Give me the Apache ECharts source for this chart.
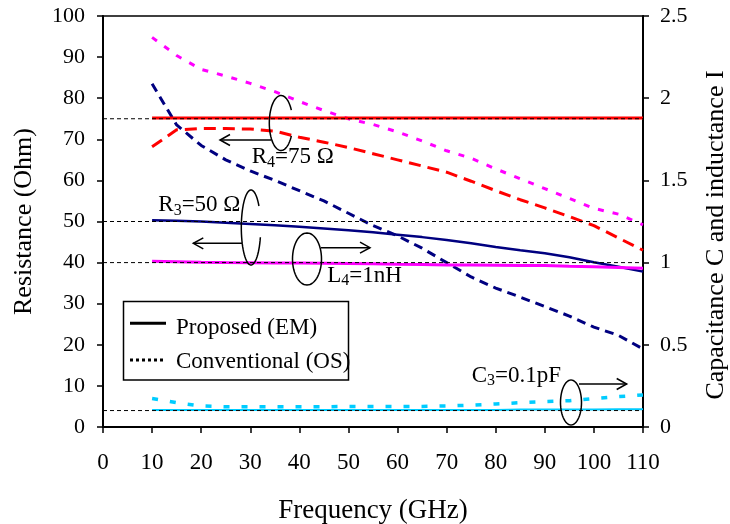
<!DOCTYPE html>
<html><head><meta charset="utf-8">
<script src="https://cdn.jsdelivr.net/npm/echarts@6/dist/echarts.min.js"></script>
<style>html,body{margin:0;padding:0;background:#fff}#c{width:730px;height:524px}</style>
</head><body><div id="c"></div>
<script>
// ---- data ----
const freq = [10,15,20,25,30,35,40,45,50,55,60,65,70,75,80,85,90,95,100,105,110];
// Resistance (Ohm), left axis
const r4EM = [75.2,75.2,75.2,75.2,75.2,75.2,75.2,75.2,75.2,75.2,75.2,75.2,75.2,75.2,75.2,75.2,75.2,75.2,75.2,75.2,75.2];
const r4OS = [68.2,72.3,72.6,72.6,72.5,72.0,70.5,69.3,68.0,66.5,65.0,63.5,62.0,59.8,57.5,55.3,53.3,51.2,49.0,46.0,43.0];
const r3EM = [50.3,50.2,50.0,49.7,49.4,49.1,48.7,48.3,47.9,47.4,46.8,46.2,45.5,44.7,43.8,43.0,42.3,41.3,40.1,39.0,37.8];
const r3OS = [83.5,73.5,68.5,65.0,62.3,60.0,57.5,55.0,52.0,49.0,46.5,43.5,40.0,36.5,33.8,31.6,29.3,27.0,24.3,22.3,19.0];
// Inductance (nH) / capacitance (pF), right axis
const l4EM = [1.008,1.005,1.002,1.000,0.999,0.998,0.997,0.996,0.995,0.993,0.990,0.988,0.985,0.985,0.984,0.983,0.982,0.978,0.975,0.970,0.965];
const l4OS = [2.37,2.26,2.175,2.135,2.09,2.04,1.98,1.925,1.875,1.84,1.795,1.74,1.68,1.635,1.57,1.51,1.45,1.39,1.33,1.295,1.23];
const c3EM = [0.104,0.104,0.104,0.104,0.104,0.104,0.104,0.104,0.104,0.104,0.104,0.104,0.104,0.104,0.104,0.106,0.107,0.107,0.107,0.108,0.108];
const c3OS = [0.173,0.148,0.128,0.123,0.123,0.123,0.123,0.123,0.125,0.125,0.125,0.125,0.128,0.133,0.140,0.148,0.155,0.160,0.173,0.185,0.195];
// target (reference) levels
const refLeft = [75, 50];      // R4, R3 (Ohm)
const refRight = [1, 0.1];     // L4 (nH), C3 (pF)
// axes
const xMin = 0, xMax = 110, xStep = 10;
const yLMin = 0, yLMax = 100, yLStep = 10;
const yRMin = 0, yRMax = 2.5, yRStep = 0.5;
// texts
const xName = 'Frequency (GHz)';
const yLName = 'Resistance (Ohm)';
const yRName = 'Capacitance C and inductance I';
const legendNames = ['Proposed (EM)', 'Conventional (OS)'];

const SERIF = 'Liberation Serif, Times New Roman, serif';
const pairs = (xs, ys) => xs.map((x, i) => [x, ys[i]]);

function lineSeries(name, vals, axis, color, width, dash, z) {
  return {
    name, type: 'line', yAxisIndex: axis, data: pairs(freq, vals),
    showSymbol: false, symbol: 'none', smooth: false, z: z || 2,
    lineStyle: { color, width, type: dash || 'solid', cap: 'butt' },
    silent: true
  };
}
function refSeries(v, axis) {
  return {
    type: 'line', yAxisIndex: axis, data: [[xMin, v], [xMax, v]],
    showSymbol: false, symbol: 'none', z: 5, silent: true,
    lineStyle: { color: '#000', width: 1, type: [4, 3] }
  };
}

const series = [
  lineSeries('R4 OS', r4OS, 0, '#FF0000', 3, [12, 7]),
  lineSeries('L4 OS', l4OS, 1, '#FF00FF', 3, [6, 9]),
  lineSeries('R3 OS', r3OS, 0, '#000080', 3, [9, 6]),
  lineSeries('C3 OS', c3OS, 1, '#00CCFF', 3.5, [6, 12]),
  lineSeries('R4 EM', r4EM, 0, '#FF0000', 3),
  lineSeries('R3 EM', r3EM, 0, '#000080', 2.5),
  lineSeries('L4 EM', l4EM, 1, '#FF00FF', 3),
  lineSeries('C3 EM', c3EM, 1, '#00CCFF', 2),
  ...refLeft.map(v => refSeries(v, 0)),
  ...refRight.map(v => refSeries(v, 1))
];

// ---- annotation graphics (loop + arrow + label) ----
function ellipsePts(cx, cy, rx, ry, a0, a1) {
  const pts = [];
  const n = 60;
  for (let i = 0; i <= n; i++) {
    const a = (a0 + (a1 - a0) * i / n) * Math.PI / 180;
    pts.push([cx + rx * Math.cos(a), cy + ry * Math.sin(a)]);
  }
  return pts;
}
function arrow(x0, y0, x1, y1) {
  const dx = x1 - x0, dy = y1 - y0, L = Math.hypot(dx, dy);
  const ux = dx / L, uy = dy / L;
  const hl = 10, hw = 5.5;
  return [
    { type: 'polyline', shape: { points: [[x0, y0], [x1, y1]] }, style: { stroke: '#000', lineWidth: 1.5, fill: null } },
    { type: 'polyline', shape: { points: [[x1 - ux * hl - uy * hw, y1 - uy * hl + ux * hw], [x1, y1], [x1 - ux * hl + uy * hw, y1 - uy * hl - ux * hw]] },
      style: { stroke: '#000', lineWidth: 1.5, fill: null } }
  ];
}
function label(main, sub, rest, x, capTop) {
  return {
    type: 'text', x: x, y: capTop - 4.2, z: 10,
    style: {
      text: '{a|' + main + '}{b|' + sub + '}{a|' + rest + '}',
      align: 'left', verticalAlign: 'top',
      rich: {
        a: { fontFamily: SERIF, fontSize: 23, lineHeight: 23, verticalAlign: 'top', fill: '#000' },
        b: { fontFamily: SERIF, fontSize: 16, lineHeight: 34, fill: '#000' }
      }
    }
  };
}
const annots = [
  { e: [281, 123, 11.7, 27.5, 28, 332], a: [271, 140, 220, 140], t: ['R', '4', '=75 Ω', 251.7, 150] },
  { e: [251, 227.5, 9.7, 37.5, 15, 325], a: [242, 243.3, 193.3, 243.3], t: ['R', '3', '=50 Ω', 158.3, 198] },
  { e: [307, 259, 14.5, 26, 0, 360], a: [321, 247.7, 370, 247.7], t: ['L', '4', '=1nH', 327.3, 268.3] },
  { e: [571, 402.5, 10.5, 22.5, 0, 360], a: [579, 384, 626.7, 384], t: ['C', '3', '=0.1pF', 471.7, 368.3] }
];
const graphics = [];
annots.forEach(o => {
  graphics.push({ type: 'polyline', z: 10, shape: { points: ellipsePts(...o.e) }, style: { stroke: '#000', lineWidth: 1.5, fill: null } });
  arrow(...o.a).forEach(g => { g.z = 10; graphics.push(g); });
  graphics.push(label(...o.t));
});
// legend box
graphics.push(
  { type: 'rect', z: 10, shape: { x: 123.5, y: 301.5, width: 225, height: 78.5 }, style: { fill: '#fff', stroke: '#000', lineWidth: 1.5 } },
  { type: 'line', z: 11, shape: { x1: 130, y1: 323.3, x2: 166, y2: 323.3 }, style: { stroke: '#000', lineWidth: 3 } },
  { type: 'line', z: 11, shape: { x1: 130, y1: 360, x2: 166, y2: 360 }, style: { stroke: '#000', lineWidth: 3, lineDash: [3, 3] } },
  { type: 'text', z: 11, x: 176, y: 328, style: { text: legendNames[0], font: '23px ' + SERIF, fill: '#000', align: 'left', verticalAlign: 'middle' } },
  { type: 'text', z: 11, x: 176, y: 362, style: { text: legendNames[1], font: '23px ' + SERIF, fill: '#000', align: 'left', verticalAlign: 'middle' } },
  { type: 'text', z: 11, x: 703.5, y: 235, rotation: Math.PI / 2,
    style: { text: yRName, font: '26px ' + SERIF, fill: '#000', align: 'center', verticalAlign: 'top' } }
);

const axisLabelStyle = (size, margin) => ({ fontFamily: SERIF, fontSize: size, color: '#000', margin });
const chart = echarts.init(document.getElementById('c'), null, { renderer: 'canvas' });
chart.setOption({
  animation: false,
  backgroundColor: '#fff',
  grid: { left: 103, right: 87, top: 16, bottom: 97, containLabel: false, outerBoundsMode: 'none',
          show: true, borderColor: '#000', borderWidth: 1.5, backgroundColor: 'transparent' },
  xAxis: {
    type: 'value', min: xMin, max: xMax, interval: xStep,
    name: xName, nameLocation: 'middle', nameGap: 70,
    nameTextStyle: { fontFamily: SERIF, fontSize: 27, color: '#000' },
    axisLine: { show: true, onZero: false, lineStyle: { color: '#000', width: 2 } },
    axisTick: { show: true, inside: false, length: 6, lineStyle: { color: '#000', width: 1.5 } },
    axisLabel: axisLabelStyle(23, 24),
    splitLine: { show: false }
  },
  yAxis: [
    {
      type: 'value', min: yLMin, max: yLMax, interval: yLStep, position: 'left',
      name: yLName, nameLocation: 'middle', nameGap: 66,
      nameTextStyle: { fontFamily: SERIF, fontSize: 26, color: '#000' },
      axisLine: { show: true, onZero: false, lineStyle: { color: '#000', width: 2 } },
      axisTick: { show: true, inside: false, length: 6, lineStyle: { color: '#000', width: 1.5 } },
      axisLabel: axisLabelStyle(22, 18),
      splitLine: { show: false }
    },
    {
      type: 'value', min: yRMin, max: yRMax, interval: yRStep, position: 'right',
      axisLine: { show: true, onZero: false, lineStyle: { color: '#000', width: 2 } },
      axisTick: { show: true, inside: false, length: 6, lineStyle: { color: '#000', width: 1.5 } },
      axisLabel: axisLabelStyle(22, 17),
      splitLine: { show: false }
    }
  ],
  series: series,
  graphic: { elements: graphics }
});
</script>
</body></html>
